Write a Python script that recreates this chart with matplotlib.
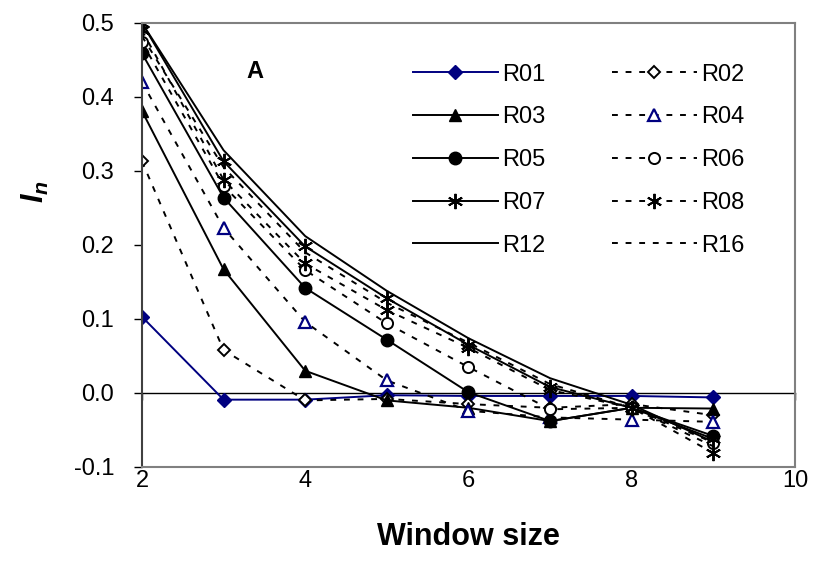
import matplotlib
matplotlib.use("Agg")
import matplotlib.pyplot as plt

plt.rcParams['font.family'] = ['Liberation Sans', 'DejaVu Sans']
plt.rcParams['mathtext.fontset'] = 'custom'
plt.rcParams['mathtext.it'] = 'Liberation Sans:italic:bold'
plt.rcParams['mathtext.rm'] = 'Liberation Sans:bold'

# window sizes
window = [2, 3, 4, 5, 6, 7, 8, 9]

# I_n values per series
r01 = [0.103, -0.009, -0.009, -0.003, -0.004, -0.004, -0.004, -0.006]
r02 = [0.313, 0.058, -0.010, -0.008, -0.015, -0.020, -0.015, -0.030]
r03 = [0.381, 0.167, 0.030, -0.010, -0.020, -0.038, -0.020, -0.021]
r04 = [0.420, 0.223, 0.096, 0.017, -0.024, -0.033, -0.036, -0.039]
r05 = [0.459, 0.264, 0.142, 0.072, 0.001, -0.038, -0.020, -0.058]
r06 = [0.474, 0.280, 0.166, 0.094, 0.035, -0.022, -0.020, -0.067]
r07 = [0.500, 0.313, 0.198, 0.128, 0.065, 0.008, -0.020, -0.062]
r08 = [0.490, 0.288, 0.175, 0.112, 0.061, 0.004, -0.020, -0.081]
r12 = [0.500, 0.328, 0.212, 0.138, 0.074, 0.020, -0.016, -0.066]
r16 = [0.482, 0.305, 0.190, 0.122, 0.068, 0.012, -0.020, -0.072]

navy = '#000080'
lw = 1.4
dash = (0, (3, 4))

fig = plt.figure(figsize=(8.15, 5.73), dpi=100)
ax = fig.add_axes([0.1742, 0.185, 0.8012, 0.7749])

ax.plot(window, r01, color=navy, lw=lw, marker='D', ms=7, mfc=navy, mec=navy, label='R01')
ax.plot(window, r02, color='black', lw=lw, ls=dash, marker='D', ms=6, mfc='white', mec='black', mew=1.4, label='R02')
ax.plot(window, r03, color='black', lw=lw, marker='^', ms=9, mfc='black', mec='black', label='R03')
ax.plot(window, r04, color='black', lw=lw, ls=dash, marker='^', ms=9, mfc='white', mec=navy, mew=1.6, label='R04')
ax.plot(window, r05, color='black', lw=lw, marker='o', ms=9, mfc='black', mec='black', label='R05')
ax.plot(window, r06, color='black', lw=lw, ls=dash, marker='o', ms=8, mfc='white', mec='black', mew=1.4, label='R06')
ax.plot(window, r07, color='black', lw=lw, marker=(6, 2, 0), ms=11, mew=1.4, mec='black', label='R07')
ax.plot(window, r08, color='black', lw=lw, ls=dash, marker=(6, 2, 0), ms=11, mew=1.4, mec='black', label='R08')
ax.plot(window, r12, color='black', lw=lw, label='R12')
ax.plot(window, r16, color='black', lw=lw, ls=dash, label='R16')

ax.set_xlim(2, 10)
ax.set_ylim(-0.1, 0.5)
ax.set_xticks([2, 4, 6, 8, 10])
ax.set_yticks([-0.1, 0.0, 0.1, 0.2, 0.3, 0.4, 0.5])
ax.set_yticklabels(['%.1f' % v for v in ax.get_yticks()])

# Excel-like frame
for s in ['top', 'right', 'bottom']:
    ax.spines[s].set_color('#808080')
    ax.spines[s].set_linewidth(1.5)
ax.spines['left'].set_color('#404040')
ax.spines['left'].set_linewidth(1.5)
ax.tick_params(axis='y', direction='out', length=6, width=1, labelsize=17, pad=14)
ax.tick_params(axis='x', length=0, labelsize=17, pad=2)

# zero-line axis with ticks
zx = ax.secondary_xaxis(1 / 6)
zx.set_xticks([2, 4, 6, 8, 10])
zx.tick_params(direction='out', length=5, width=1, labelbottom=False, labeltop=False)
zx.spines['bottom'].set_linewidth(1)
zx.spines['top'].set_linewidth(1)
zx.spines['bottom'].set_color('black')
zx.set_xticklabels([])

ax.set_xlabel('Window size', fontsize=22, fontweight='bold', labelpad=22)
ax.set_ylabel('$I_n$', fontsize=22)
ax.yaxis.set_label_coords(-0.14, 0.62)

ax.text(3.38, 0.434, 'A', fontsize=17, fontweight='bold', ha='center', va='center')

h, l = ax.get_legend_handles_labels()
order = [0, 2, 4, 6, 8, 1, 3, 5, 7, 9]
ax.legend([h[i] for i in order], [l[i] for i in order], ncol=2, frameon=False,
          fontsize=17, handlelength=3.6, labelspacing=0.88, columnspacing=2.8,
          handletextpad=0.2, loc='upper left', bbox_to_anchor=(0.4, 0.93),
          borderaxespad=0)

fig.savefig('out.png', dpi=100)
